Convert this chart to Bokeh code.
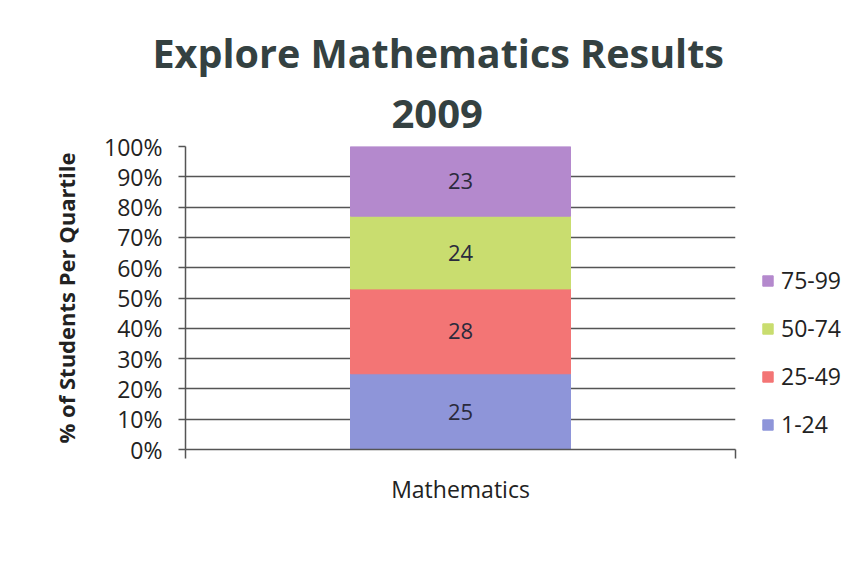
from bokeh.plotting import figure
from bokeh.models import (FactorRange, Range1d, LinearAxis, CategoricalAxis, FixedTicker,
                          PrintfTickFormatter, Legend, LegendItem, Title, ColumnDataSource)
from bokeh.core.properties import value
from bokeh.embed import file_html
from bokeh.resources import INLINE

# ---- data ----
categories = ["Mathematics"]
quartiles = ["1-24", "25-49", "50-74", "75-99"]
values = [25, 28, 24, 23]
colors = ["#8e95d9", "#f37575", "#c9dd6f", "#b489cd"]
y_ticks = [0, 10, 20, 30, 40, 50, 60, 70, 80, 90, 100]
title_line1 = "Explore Mathematics Results"
title_line2 = "2009"
y_label = "% of Students Per Quartile"

FONT = "Open Sans"

p = figure(frame_width=550, frame_height=303, x_range=FactorRange(*categories),
           y_range=Range1d(0, 100),
           output_backend="svg", toolbar_location=None, x_axis_location=None,
           min_border_left=185, min_border_right=122, min_border_top=146, min_border_bottom=110)
p.outline_line_color = None
p.background_fill_color = "white"
p.border_fill_color = "white"

# stacked bar
data = {"cat": categories}
for q, v in zip(quartiles, values):
    data[q] = [v]
src = ColumnDataSource(data)
renderers = p.vbar_stack(quartiles, x="cat", width=0.4, color=colors, source=src,
                         line_color=colors)

# segment labels
cum = 0
lx, ly, lt = [], [], []
for v in values:
    lx.append(categories[0])
    ly.append(cum + v / 2)
    lt.append(str(v))
    cum += v
p.text(x=lx, y=ly, text=lt, text_align="center", text_baseline="middle",
       text_font=value(FONT), text_font_size="22px", text_color="#2a2a3c")

# y axis
yax = p.yaxis[0]
yax.ticker = FixedTicker(ticks=y_ticks)
yax.formatter = PrintfTickFormatter(format="%d%%")
yax.axis_line_color = "#555555"
yax.axis_line_width = 1.5
yax.major_tick_line_color = "#555555"
yax.major_tick_line_width = 1.5
yax.major_tick_out = 7
yax.major_tick_in = 0
yax.minor_tick_line_color = None
yax.major_label_standoff = 16
yax.major_label_text_font = FONT
yax.major_label_text_font_size = "23px"
yax.major_label_text_color = "#222222"
yax.axis_label = y_label
yax.axis_label_text_font = FONT
yax.axis_label_text_font_style = "bold"
yax.axis_label_text_font_size = "22px"
yax.axis_label_text_color = "#222222"
yax.axis_label_standoff = 20

p.ygrid.ticker = FixedTicker(ticks=y_ticks)
p.ygrid.grid_line_color = "#555555"
p.ygrid.grid_line_width = 1.5
p.xgrid.visible = False

# bottom axes: category boundary ticks + category label
edge = LinearAxis(ticker=FixedTicker(ticks=[0, 1]),
                  major_label_overrides={0: "", 1: ""}, major_label_standoff=0,
                  major_label_text_font_size="4px",
                  major_tick_out=9, major_tick_in=0, minor_tick_line_color=None,
                  axis_line_color="#555555", axis_line_width=1.5,
                  major_tick_line_color="#555555", major_tick_line_width=1.5)
p.add_layout(edge, "below")
cax = CategoricalAxis(axis_line_color=None, major_tick_line_color=None,
                      major_label_text_font=FONT, major_label_text_font_size="23px",
                      major_label_text_color="#222222", major_label_standoff=8)
p.add_layout(cax, "below")

# titles (p.title is the outer line, the added Title sits next to the plot)
p.title.text = title_line1
p.title.align = "left"
p.title.offset = -33
p.title.text_font = FONT
p.title.text_font_style = "bold"
p.title.text_font_size = "39.5px"
p.title.text_color = "#344141"
p.title.standoff = 0
t2 = Title(text=title_line2, align="left", offset=206, text_font=FONT, text_font_style="bold",
           text_font_size="40px", text_color="#344141", standoff=37)
p.add_layout(t2, "above")

# legend
items = [LegendItem(label=q, renderers=[r]) for q, r in zip(quartiles, renderers)][::-1]
legend = Legend(items=items, location="top_left", glyph_width=13, glyph_height=13,
                label_text_font=FONT, label_text_font_size="23px", label_text_color="#222222",
                label_standoff=7, label_height=28, spacing=16, padding=0, margin=26,
                title=" ", title_text_font_size="8px", title_standoff=83,
                border_line_color=None, background_fill_alpha=0)
p.add_layout(legend, "right")

open("out.html", "w").write(file_html(p, INLINE))
